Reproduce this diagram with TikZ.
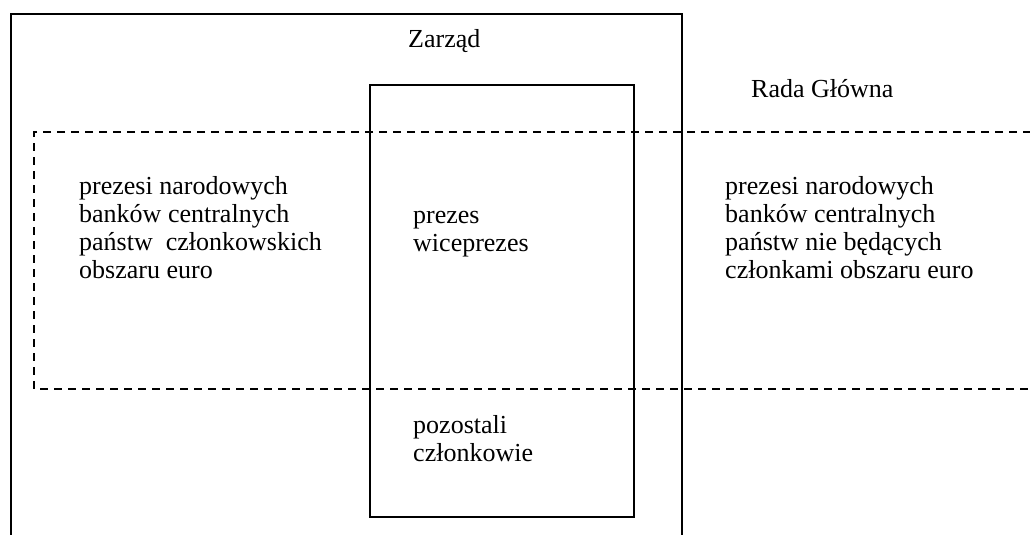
\documentclass[tikz,border=0pt]{standalone}
\usepackage{fontspec}
\setmainfont{Liberation Serif}
\begin{document}
\begin{tikzpicture}[x=1pt,y=-1pt,
  frame/.style={draw=black,line width=1.7pt},
  council/.style={draw=black,line width=1.6pt,dash pattern=on 8pt off 6pt},
  label/.style={inner sep=0pt,anchor=base west,align=left,
    font=\fontsize{26}{27.7}\selectfont}]
  \useasboundingbox (0,0) rectangle (1030,535);
  \begin{scope}
    \clip (0,0) rectangle (1030,535);
    % Zarząd: open at the bottom
    \draw[frame] (11,545) -- (11,14) -- (682,14) -- (682,545);
    % inner box: prezes, wiceprezes, pozostali członkowie
    \draw[frame] (370,85) rectangle (634,517);
    % Rada Główna: dashed band running off to the right
    \draw[council] (1045,132) -- (34,132) -- (34,389) -- (1045,389);
  \end{scope}
  % multi-line labels sit on the baseline of their last line
  \node[label] (zarzad) at (408,48) {Zarząd};
  \node[label] (rada) at (751,97) {Rada Główna};
  \node[label] (left) at (79,278) {prezesi narodowych\\banków centralnych\\państw\ \ członkowskich\\obszaru euro};
  \node[label] (right) at (725,278) {prezesi narodowych\\banków centralnych\\państw nie będących\\członkami obszaru euro};
  \node[label] (mid1) at (413,251) {prezes\\wiceprezes};
  \node[label] (mid2) at (413,461) {pozostali\\członkowie};
\end{tikzpicture}
\end{document}
